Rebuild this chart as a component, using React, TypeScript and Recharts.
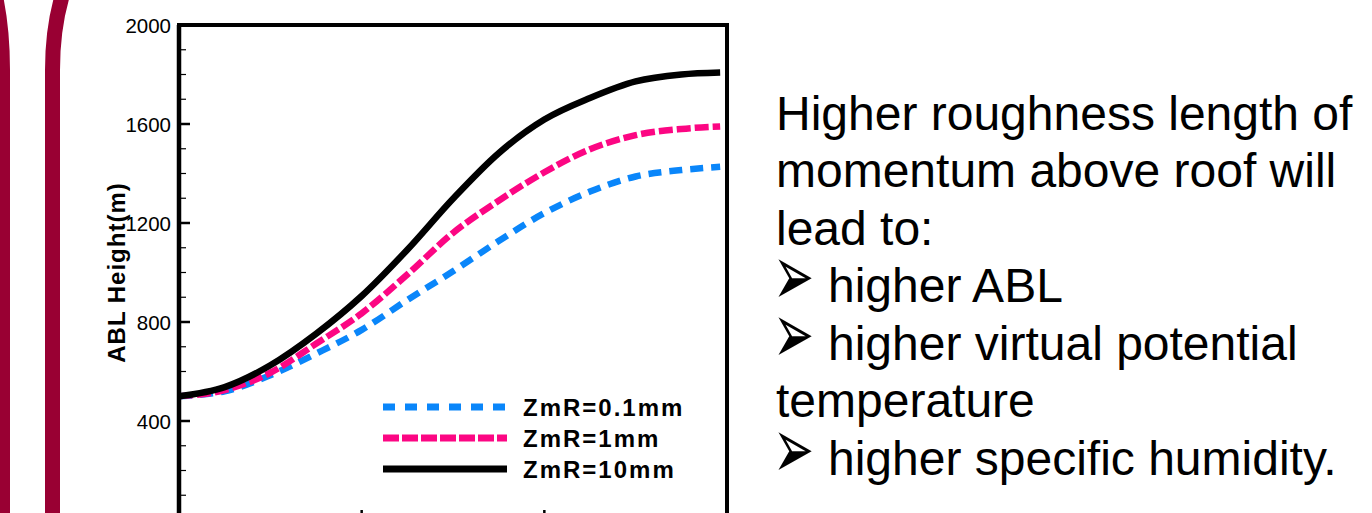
import { LineChart, Line, XAxis, YAxis, ReferenceArea, Legend } from 'recharts'

// time axis (h) and ABL height (m) per roughness length
const hours = [0, 1, 2, 3, 4, 5, 6, 7, 8, 9, 10, 11, 11.85]
const zmr01 = [500, 520, 585, 672, 768, 889, 1005, 1127, 1240, 1327, 1388, 1414, 1427]
const zmr1 = [500, 525, 595, 712, 835, 992, 1160, 1290, 1405, 1498, 1555, 1580, 1590]
const zmr10 = [500, 537, 625, 752, 905, 1092, 1298, 1482, 1618, 1705, 1772, 1800, 1808]

const yTicks = [0, 100, 200, 300, 400, 500, 600, 700, 800, 900, 1000, 1100, 1200, 1300, 1400, 1500, 1600, 1700, 1800, 1900, 2000]
const xTicks = [0, 4, 8, 12]

const series = [
  { key: 'zmr01', name: 'ZmR=0.1mm', color: '#0a86fa', dash: '13 8', legendDash: '12 10' },
  { key: 'zmr1', name: 'ZmR=1mm', color: '#fc0683', dash: '14 4', legendDash: '16 3' },
  { key: 'zmr10', name: 'ZmR=10mm', color: '#000000', dash: undefined, legendDash: undefined },
]

const notes = [
  'Higher roughness length of',
  'momentum above roof will',
  'lead to:',
  '➢higher ABL',
  '➢higher virtual potential',
  'temperature',
  '➢higher specific humidity.',
]

const data = hours.map((h, i) => ({ h, zmr01: zmr01[i], zmr1: zmr1[i], zmr10: zmr10[i] }))

const font = '"Liberation Sans", Arial, Helvetica, sans-serif'

function YTick(props: any) {
  const { x, y, payload } = props
  const major = payload.value % 400 === 0
  return (
    <g>
      <line x1={x} y1={y} x2={x + (major ? 11 : 7)} y2={y} stroke="#000" strokeWidth={major ? 2.5 : 1.2} />
      {major && (
        <text x={x - 8} y={y} textAnchor="end" dominantBaseline="central" fontSize={20.5} fill="#000">
          {payload.value}
        </text>
      )}
    </g>
  )
}

// x labels sit below the visible area in the reference, keep only the tick marks
const NoLabel = () => <g />

function LegendBox() {
  return (
    <div style={{ display: 'flex', flexDirection: 'column' }}>
      {series.map(s => (
        <div key={s.key} style={{ display: 'flex', alignItems: 'center', height: 31 }}>
          <svg width={124} height={10} style={{ display: 'block' }}>
            <line x1={0} y1={5} x2={124} y2={5} stroke={s.color} strokeWidth={7} strokeDasharray={s.legendDash} />
          </svg>
          <span style={{ marginLeft: 16, fontWeight: 'bold', fontSize: 24, letterSpacing: 2, color: '#000', lineHeight: '31px' }}>
            {s.name}
          </span>
        </div>
      ))}
    </div>
  )
}

export default function App() {
  return (
    <div style={{ position: 'fixed', left: 0, top: 0, width: 1372, height: 513, overflow: 'hidden', background: '#fff', fontFamily: font }}>
      <svg width={100} height={513} style={{ position: 'absolute', left: 0, top: 0 }}>
        <path d="M 2.5 520 L 2.5 70 Q 2.5 25 -6 -10" stroke="#990033" strokeWidth={15} fill="none" />
        <path d="M 52.5 520 L 52.5 70 Q 52.5 25 64 -10" stroke="#990033" strokeWidth={15} fill="none" />
      </svg>

      <div style={{ position: 'absolute', left: 0, top: 0 }}>
        <LineChart width={760} height={570} data={data} margin={{ top: 25, right: 33, bottom: 0, left: 53 }}>
          <XAxis
            type="number"
            dataKey="h"
            domain={[0, 12]}
            ticks={xTicks}
            interval={0}
            tickSize={-10}
            height={50}
            axisLine={{ stroke: '#000', strokeWidth: 4 }}
            tickLine={{ stroke: '#000', strokeWidth: 2.5 }}
            tick={NoLabel}
          />
          <YAxis
            type="number"
            domain={[0, 2000]}
            ticks={yTicks}
            interval={0}
            width={126}
            tickSize={0}
            tickMargin={0}
            tickLine={false}
            axisLine={{ stroke: '#000', strokeWidth: 4.5 }}
            tick={YTick}
            label={{ value: 'ABL Height(m)', angle: -90, position: 'center', fontSize: 24, fontWeight: 'bold', fill: '#000', letterSpacing: 1 }}
          />
          <ReferenceArea x1={0} x2={12} y1={0} y2={2000} fill="none" fillOpacity={0} stroke="#000" strokeWidth={4} />
          {series.map(s => (
            <Line
              key={s.key}
              type="monotone"
              dataKey={s.key}
              name={s.name}
              stroke={s.color}
              strokeWidth={6.5}
              strokeDasharray={s.dash}
              dot={false}
              isAnimationActive={false}
            />
          ))}
          <Legend
            layout="vertical"
            align="center"
            verticalAlign="middle"
            content={() => <LegendBox />}
            wrapperStyle={{ position: 'absolute', left: 383, top: 391.5, width: 'auto' }}
          />
        </LineChart>
      </div>

      {notes.map((line, i) => {
        const bullet = line.startsWith('➢')
        return (
          <div
            key={line}
            style={{
              position: 'absolute',
              left: 776,
              top: 84.6 + i * 57.5,
              height: 57.5,
              fontSize: 48,
              lineHeight: '57.5px',
              color: '#000',
              whiteSpace: 'pre',
              paddingLeft: bullet ? 52 : 0,
            }}
          >
            {bullet && (
              <span
                style={{
                  position: 'absolute',
                  left: -3,
                  top: 23.4,
                  height: 20,
                  fontFamily: '"DejaVu Sans", sans-serif',
                  fontSize: 49,
                  lineHeight: '20px',
                  transform: 'scaleY(1.75)',
                  transformOrigin: '0 27px',
                }}
              >
                ➢
              </span>
            )}
            {bullet ? line.slice(1) : line}
          </div>
        )
      })}
    </div>
  )
}
